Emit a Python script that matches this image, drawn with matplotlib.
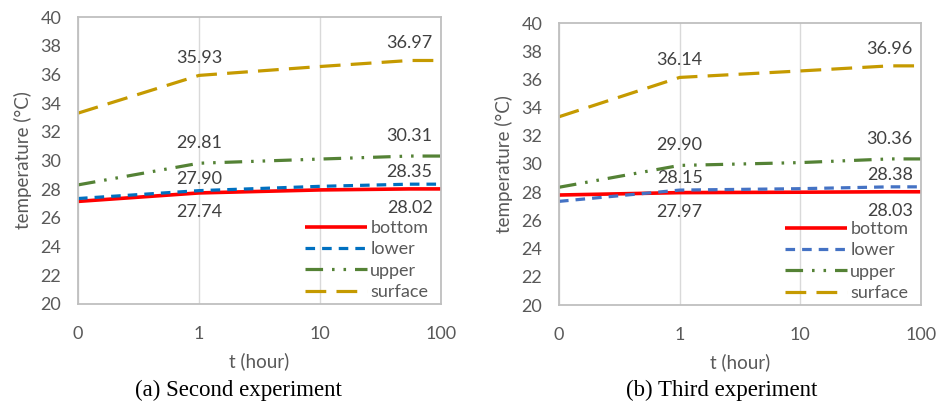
import matplotlib
matplotlib.use("Agg")
import matplotlib.pyplot as plt

plt.rcParams['font.family'] = ['Lato', 'DejaVu Sans']

# time points (hours); first point is plotted at 0.1 on log axis, labelled "0"
t = [0.1, 1, 10, 55, 100]
xtick_vals = [0.1, 1, 10, 100]
xtick_labels = ['0', '1', '10', '100']
yticks = list(range(20, 41, 2))

# (a) Second experiment
a_bottom = [27.15, 27.74, 27.95, 28.02, 28.02]
a_lower = [27.35, 27.90, 28.20, 28.35, 28.35]
a_upper = [28.30, 29.81, 30.10, 30.31, 30.31]
a_surface = [33.30, 35.93, 36.55, 36.97, 36.97]

# (b) Third experiment
b_bottom = [27.80, 27.97, 28.00, 28.03, 28.03]
b_lower = [27.35, 28.15, 28.25, 28.38, 28.38]
b_upper = [28.35, 29.90, 30.10, 30.36, 30.36]
b_surface = [33.35, 36.14, 36.60, 36.96, 36.96]

series_names = ['bottom', 'lower', 'upper', 'surface']
captions = ['(a) Second experiment', '(b) Third experiment']

GRAY = '#595959'
fig = plt.figure(figsize=(9.36, 4.03), dpi=100)

W, H = 936, 403
def rect(l, r, top, bot):
    return [l / W, 1 - bot / H, (r - l) / W, (bot - top) / H]

panels = [
    dict(rect=rect(78, 441, 17, 304), data=[a_bottom, a_lower, a_upper, a_surface],
         colors=['#FF0000', '#0070C0', '#548235', '#C59A00'], cap=captions[0], capx=238),
    dict(rect=rect(559, 921, 23, 305), data=[b_bottom, b_lower, b_upper, b_surface],
         colors=['#FF0000', '#4472C4', '#548235', '#C59A00'], cap=captions[1], capx=722),
]

dash_styles = [None, (0, (3.0, 2.2)), (0, (5.5, 2.8, 0.8, 2.8, 0.8, 2.8)), (0, (6.5, 3.2))]

for p in panels:
    ax = fig.add_axes(p['rect'])
    for name, ys, c, ds in zip(series_names, p['data'], p['colors'], dash_styles):
        kw = dict(color=c, lw=2.6 if name == 'bottom' else 2.3, label=name,
                  solid_capstyle='butt', dash_capstyle='butt')
        if ds is not None:
            kw['linestyle'] = ds
        ax.plot(t, ys, **kw)
    ax.set_xscale('log')
    ax.set_xlim(0.1, 100)
    ax.set_ylim(20, 40)
    ax.set_xticks(xtick_vals)
    ax.set_xticklabels(xtick_labels)
    ax.minorticks_off()
    ax.set_yticks(yticks)
    ax.tick_params(length=0, labelsize=13, colors=GRAY, pad=12)
    ax.tick_params(axis='x', pad=16)
    ax.grid(axis='x', color='#D9D9D9', lw=1)
    ax.set_axisbelow(True)
    for s in ax.spines.values():
        s.set_color('#BFBFBF')
        s.set_linewidth(1.3)
    ax.set_xlabel('t (hour)', fontsize=13.5, color=GRAY, labelpad=7)
    ax.set_ylabel('temperature (°C)', fontsize=13.5, color=GRAY, labelpad=6)

    bottom, lower, upper, surface = p['data']
    for idx in (1, 3):
        for ys, off in ((surface, 17), (upper, 20), (lower, 12), (bottom, -19)):
            ax.annotate(f'{ys[idx]:.2f}', (t[idx], ys[idx]), xytext=(0, off),
                        textcoords='offset pixels', ha='center', va='center',
                        fontsize=13, color='#404040')

    ax.legend(loc='lower right', bbox_to_anchor=(0.985, -0.012), frameon=False,
              fontsize=13, handlelength=3.4, handletextpad=0.2,
              labelspacing=0.3, borderaxespad=0.0, labelcolor=GRAY)

    fig.text(p['capx'] / W, 1 - 390 / H, p['cap'], ha='center', va='center',
             fontsize=16.5, family='Liberation Serif', color='black')

fig.savefig('out.png', dpi=100)
